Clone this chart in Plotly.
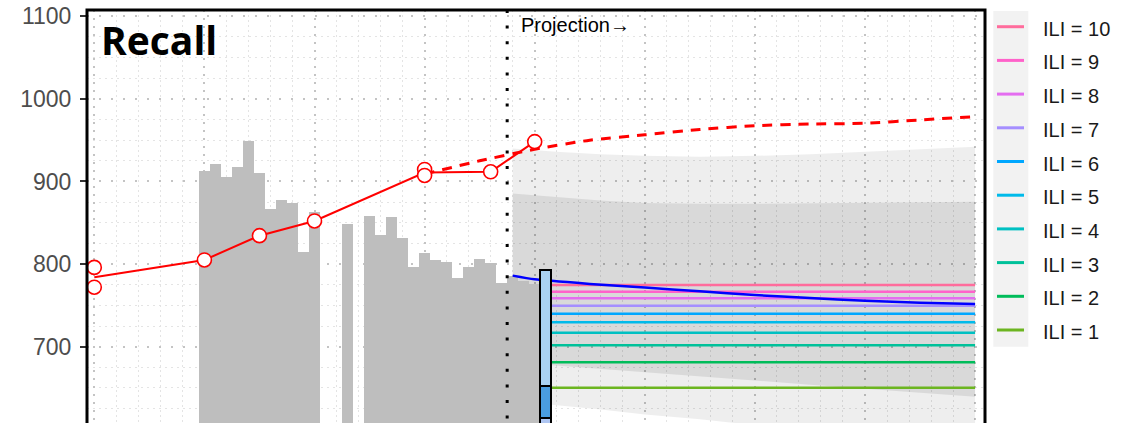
import pandas as pd
import plotly.graph_objects as go

# ---------------- data ----------------
# weekly observed counts (grey bars); weeks without a bar are missing
bar_weeks = [10, 11, 12, 13, 14, 15, 16, 17, 18, 19, 20, 23,
             25, 26, 27, 28, 29, 30, 31, 32, 33, 34, 35, 36, 37, 38, 39, 40]
bar_values = [912.5, 920.6, 905, 917.7, 948.8, 910.5, 866.5, 877, 873.4, 815, 863.4, 848.5,
              858.5, 835, 857.2, 831, 797, 813.7, 804.4, 802.8, 783.5, 797, 806.4, 800.8,
              777, 786, 779, 776]

# recall points (red circles); the red line joins the mean at each week
recall_weeks = [0, 0, 10, 15, 20, 30, 30, 36, 40]
recall_values = [796, 772, 805, 834.4, 852.2, 914.5, 907.3, 911.7, 948.2]

# dashed red continuation
trend_weeks = [30, 35, 40, 45, 50, 55, 60, 65, 70, 75, 80]
trend_values = [909, 925, 939, 950, 956.5, 963, 967.5, 969.5, 970.5, 974.5, 978.5]

# blue central projection
proj_weeks = [38, 40, 45, 50, 55, 60, 65, 70, 75, 80]
proj_values = [786, 781.5, 776, 771.5, 767, 762.5, 759, 755.6, 753.3, 751.6]

# projection intervals
band_weeks = [38, 42, 46, 50, 55, 60, 65, 70, 75, 80]
outer_hi = [940, 936, 933, 931, 930, 931, 933, 936, 939, 942]
inner_hi = [885.5, 881, 877, 874, 873, 873, 873.5, 874, 874.5, 875.5]
inner_lo = [681, 677, 673, 669, 664, 659, 654, 649, 644, 639.5]
outer_lo = [634, 629, 624, 618, 612, 605, 598, 592, 585, 578]

# flat ILI scenario levels
ili_levels = [10, 9, 8, 7, 6, 5, 4, 3, 2, 1]
ili_values = [774.7, 766.6, 758.6, 749.6, 740, 729.5, 716.9, 701.7, 681.1, 650.4]
ili_colors = ["#FF6C9C", "#FF62CA", "#E46DF0", "#A58EFF", "#00A7FF",
              "#00BAEA", "#00C0C2", "#00C19A", "#00BC5A", "#6CB520"]
ili_weeks = [41, 80]

# stacked scale box
box_week = 41
box_edges = [580, 613.3, 652.8, 793]
box_colors = ["#AFC6F2", "#4A9DE0", "#AAD2F2"]

projection_start = 37.5

# ---------------- geometry ----------------
W, H = 1124, 423
PLOT_L, PLOT_R, PLOT_T, PLOT_B = 87, 985, 10, 423
X_RANGE = [-0.663, 80.9]
Y_RANGE = [607.6, 1107.6]


def px_x(px):
    return (px - PLOT_L) / (PLOT_R - PLOT_L)


def px_y(py):
    return (PLOT_B - py) / (PLOT_B - PLOT_T)


TXT = "Liberation Sans, Arial, sans-serif"

fig = go.Figure()

# interval bands (base subplot, below bars)
fig.add_trace(go.Scatter(
    x=band_weeks + band_weeks[::-1], y=outer_hi + outer_lo[::-1],
    fill="toself", fillcolor="rgba(0,0,0,0.065)", line=dict(width=0),
    hoverinfo="skip", showlegend=False))
fig.add_trace(go.Scatter(
    x=band_weeks + band_weeks[::-1], y=inner_hi + inner_lo[::-1],
    fill="toself", fillcolor="rgba(0,0,0,0.088)", line=dict(width=0),
    hoverinfo="skip", showlegend=False))

# bars
fig.add_trace(go.Bar(x=bar_weeks, y=bar_values, width=1, marker_color="#BEBEBE",
                     marker_line_width=0, yaxis="y2", showlegend=False))

# ILI scenario lines
for lvl, val, col in zip(ili_levels, ili_values, ili_colors):
    fig.add_trace(go.Scatter(x=ili_weeks, y=[val, val], mode="lines",
                             line=dict(color=col, width=2.5), yaxis="y2",
                             name=f"ILI = {lvl}", showlegend=False))

# central projection
fig.add_trace(go.Scatter(x=proj_weeks, y=proj_values, mode="lines",
                         line=dict(color="#0000FF", width=2.5, shape="spline", smoothing=0.6),
                         yaxis="y2", showlegend=False))

# dashed trend
fig.add_trace(go.Scatter(x=trend_weeks, y=trend_values, mode="lines",
                         line=dict(color="#FF0000", width=3, dash="10px,8px",
                                   shape="spline", smoothing=0.6),
                         yaxis="y2", showlegend=False))

# recall line + points
recall = pd.DataFrame({"week": recall_weeks, "value": recall_values})
recall_mean = recall.groupby("week", as_index=False)["value"].mean()
fig.add_trace(go.Scatter(x=recall_mean["week"], y=recall_mean["value"], mode="lines",
                         line=dict(color="#FF0000", width=2), yaxis="y2", showlegend=False))
fig.add_trace(go.Scatter(x=recall["week"], y=recall["value"], mode="markers",
                         marker=dict(size=14, color="white",
                                     line=dict(color="#FF0000", width=1.6)),
                         yaxis="y2", showlegend=False))

# stacked box on top
fig.add_trace(go.Bar(x=[box_week] * (len(box_edges) - 1),
                     base=box_edges[:-1],
                     y=[b - a for a, b in zip(box_edges[:-1], box_edges[1:])],
                     width=1, marker=dict(color=box_colors, line=dict(color="black", width=2)),
                     yaxis="y3", showlegend=False))

grid_major = "#C4C4C4"
grid_minor = "#E4E4E4"

fig.update_layout(
    width=W, height=H,
    margin=dict(l=PLOT_L, r=W - PLOT_R, t=PLOT_T, b=H - PLOT_B, pad=0),
    paper_bgcolor="white", plot_bgcolor="white",
    barmode="overlay", bargap=0,
    xaxis=dict(range=X_RANGE, showticklabels=False, ticks="", zeroline=False,
               showline=False, tick0=0, dtick=10,
               showgrid=True, gridcolor=grid_major, gridwidth=2, griddash="2px,6px",
               minor=dict(tick0=0, dtick=2, showgrid=True, gridcolor=grid_minor,
                          gridwidth=1, griddash="2px,3px")),
    yaxis=dict(range=Y_RANGE, tick0=0, dtick=100, ticks="outside", ticklen=6, tickwidth=2,
               tickcolor="#333333", zeroline=False, showline=False,
               tickfont=dict(family=TXT, size=23, color="#4D4D4D"),
               ticklabelstandoff=4,
               showgrid=True, gridcolor=grid_major, gridwidth=2, griddash="2px,10px",
               minor=dict(tick0=0, dtick=25, showgrid=True, gridcolor=grid_minor,
                          gridwidth=1, griddash="2px,4px")),
    yaxis2=dict(range=Y_RANGE, overlaying="y", visible=False),
    yaxis3=dict(range=Y_RANGE, overlaying="y", visible=False),
    showlegend=False,
)

shapes = [
    # projection start marker
    dict(type="line", xref="x", yref="paper", x0=projection_start, x1=projection_start,
         y0=1, y1=0, line=dict(color="black", width=3, dash="3px,12.6px"), layer="above"),
    # panel border
    dict(type="rect", xref="paper", yref="paper", x0=0, x1=1, y0=-0.05, y1=1,
         line=dict(color="black", width=3), layer="above"),
    # legend key column
    dict(type="rect", xref="paper", yref="paper", x0=px_x(993.3), x1=px_x(1028.3),
         y0=px_y(346.7), y1=px_y(11), fillcolor="#F2F2F2", line=dict(width=0), layer="below"),
]

annotations = [
    dict(text="<b>Recall</b>", xref="paper", yref="paper", x=px_x(99), y=px_y(39.6),
         xanchor="left", yanchor="middle", showarrow=False,
         font=dict(family="Open Sans, sans-serif", size=39, color="black")),
    dict(text="Projection→", xref="paper", yref="paper", x=px_x(519), y=px_y(24.8),
         xanchor="left", yanchor="middle", showarrow=False,
         font=dict(family=TXT, size=20, color="black")),
]

key_y0, key_step = 26.7, 33.7
for i, (lvl, col) in enumerate(zip(ili_levels, ili_colors)):
    ky = key_y0 + i * key_step
    shapes.append(dict(type="line", xref="paper", yref="paper", x0=px_x(997), x1=px_x(1024),
                       y0=px_y(ky), y1=px_y(ky), line=dict(color=col, width=3)))
    annotations.append(dict(text=f"ILI = {lvl}", xref="paper", yref="paper",
                            x=px_x(1040.5), y=px_y(ky + 2), xanchor="left", yanchor="middle",
                            showarrow=False, font=dict(family=TXT, size=20, color="#1A1A1A")))

fig.update_layout(shapes=shapes, annotations=annotations)

fig.write_html("out.html")
